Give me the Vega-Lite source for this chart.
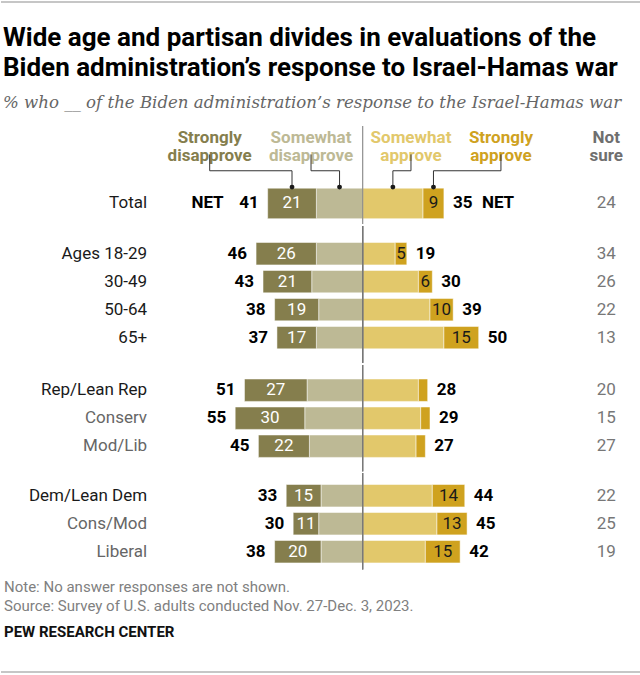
{
  "$schema": "https://vega.github.io/schema/vega-lite/v6.json",
  "padding": 0,
  "background": "white",
  "spacing": 0,
  "config": {
    "view": {"stroke": null},
    "axis": {"disable": true},
    "legend": {"disable": true},
    "text": {"font": "Roboto"},
    "title": {"font": "Roboto"}
  },
  "datasets": {
    "rows": [
      {"g": "t", "label": "Total", "sd": 21, "wd": 20, "netD": 41, "wa": 26, "sa": 9, "netA": 35, "ns": 24},
      {"g": "a", "label": "Ages 18-29", "sd": 26, "wd": 20, "netD": 46, "wa": 14, "sa": 5, "netA": 19, "ns": 34},
      {"g": "a", "label": "30-49", "sd": 21, "wd": 22, "netD": 43, "wa": 24, "sa": 6, "netA": 30, "ns": 26},
      {"g": "a", "label": "50-64", "sd": 19, "wd": 19, "netD": 38, "wa": 29, "sa": 10, "netA": 39, "ns": 22},
      {"g": "a", "label": "65+", "sd": 17, "wd": 20, "netD": 37, "wa": 35, "sa": 15, "netA": 50, "ns": 13},
      {"g": "r", "label": "Rep/Lean Rep", "sd": 27, "wd": 24, "netD": 51, "wa": 24, "sa": 4, "netA": 28, "ns": 20},
      {"g": "r", "label": "Conserv", "sd": 30, "wd": 25, "netD": 55, "wa": 25, "sa": 4, "netA": 29, "ns": 15},
      {"g": "r", "label": "Mod/Lib", "sd": 22, "wd": 23, "netD": 45, "wa": 23, "sa": 4, "netA": 27, "ns": 27},
      {"g": "d", "label": "Dem/Lean Dem", "sd": 15, "wd": 18, "netD": 33, "wa": 30, "sa": 14, "netA": 44, "ns": 22},
      {"g": "d", "label": "Cons/Mod", "sd": 11, "wd": 19, "netD": 30, "wa": 32, "sa": 13, "netA": 45, "ns": 25},
      {"g": "d", "label": "Liberal", "sd": 20, "wd": 18, "netD": 38, "wa": 27, "sa": 15, "netA": 42, "ns": 19}
    ],
    "legend": [
      {"k": "sd", "t": ["Strongly", "disapprove"], "at": -66, "anc": -30.5},
      {"k": "wd", "t": ["Somewhat", "disapprove"], "at": -22.3, "anc": -10},
      {"k": "wa", "t": ["Somewhat", "approve"], "at": 20.8, "anc": 13},
      {"k": "sa", "t": ["Strongly", "approve"], "at": 59.6, "anc": 30.5},
      {"k": "ns", "t": ["Not", "sure"], "at": 105, "anc": null}
    ]
  },
  "data": {"name": "rows"},
  "vconcat": [
    {
      "width": 640,
      "height": 24,
      "data": {"values": [{}]},
      "mark": {"type": "rule", "color": "#b3b3b3", "strokeWidth": 1.5},
      "encoding": {"y": {"datum": 0.917, "type": "quantitative", "scale": {"domain": [0, 1]}}}
    },
    {
      "width": 640,
      "height": 98,
      "title": {
        "text": ["Wide age and partisan divides in evaluations of the", "Biden administration’s response to Israel-Hamas war"],
        "subtitle": "% who __ of the Biden administration’s response to the Israel-Hamas war",
        "anchor": "start",
        "frame": "group",
        "dx": 2,
        "font": "Roboto",
        "fontSize": 26,
        "fontWeight": "bold",
        "lineHeight": 30,
        "color": "#000000",
        "subtitleFont": "DejaVu Serif",
        "subtitleFontStyle": "italic",
        "subtitleFontSize": 16.6,
        "subtitleColor": "#666666",
        "subtitlePadding": 14,
        "offset": 14
      },
      "transform": [{"filter": "datum.g == 't'"}],
      "layer": [
        {
          "transform": [{"fold": ["wd", "sd"], "as": ["resp", "v"]}],
          "mark": {"type": "bar", "stroke": "white", "strokeWidth": 0.5, "height": {"band": 1.867}},
          "encoding": {
            "y": {"field": "label", "type": "nominal", "scale": {"domain": ["c1", "elbow", "dot", "Total"], "paddingInner": 0, "paddingOuter": 2.083, "align": 0.62}},
            "x": {"field": "v", "type": "quantitative", "stack": "zero", "scale": {"domain": [-120, 156], "nice": false, "zero": false, "reverse": true}},
            "color": {"field": "resp", "type": "nominal", "scale": {"domain": ["sd", "wd", "wa", "sa", "ns"], "range": ["#857e4d", "#bdb995", "#e2c86b", "#cfa21f", "#6f6f6f"]}},
            "order": {"field": "resp", "sort": "descending"}
          }
        },
        {
          "transform": [{"fold": ["wa", "sa"], "as": ["resp", "v"]}],
          "mark": {"type": "bar", "stroke": "white", "strokeWidth": 0.5, "height": {"band": 1.867}},
          "encoding": {
            "y": {"field": "label", "type": "nominal"},
            "x": {"field": "v", "type": "quantitative", "stack": "zero", "scale": {"domain": [-156, 120], "nice": false, "zero": false}},
            "color": {"field": "resp", "type": "nominal"},
            "order": {"field": "resp", "sort": "descending"}
          }
        },
        {
          "mark": {"type": "rule", "color": "#777777", "strokeWidth": 1},
          "encoding": {"x": {"datum": 0, "type": "quantitative", "scale": {"domain": [-156, 120], "nice": false, "zero": false}}}
        },
        {
          "transform": [{"fold": ["wd", "sd"], "as": ["resp", "v"]}],
          "mark": {"type": "text", "color": "white", "fontSize": 17, "baseline": "middle"},
          "encoding": {
            "y": {"field": "label", "type": "nominal"},
            "x": {"field": "v", "type": "quantitative", "stack": "zero", "bandPosition": 0.5, "scale": {"domain": [-120, 156], "nice": false, "zero": false, "reverse": true}},
            "detail": {"field": "resp"},
            "order": {"field": "resp", "sort": "descending"},
            "text": {"condition": {"test": "datum.resp == 'sd'", "field": "v", "type": "quantitative"}, "value": ""}
          }
        },
        {
          "transform": [{"fold": ["wa", "sa"], "as": ["resp", "v"]}],
          "mark": {"type": "text", "color": "#1a1a1a", "fontSize": 17, "baseline": "middle"},
          "encoding": {
            "y": {"field": "label", "type": "nominal"},
            "x": {"field": "v", "type": "quantitative", "stack": "zero", "bandPosition": 0.5, "scale": {"domain": [-156, 120], "nice": false, "zero": false}},
            "detail": {"field": "resp"},
            "order": {"field": "resp", "sort": "descending"},
            "text": {"condition": {"test": "datum.resp == 'sa' && datum.v >= 5", "field": "v", "type": "quantitative"}, "value": ""}
          }
        },
        {
          "mark": {"type": "text", "align": "right", "dx": -9, "fontWeight": "bold", "fontSize": 17, "baseline": "middle", "color": "#000000"},
          "encoding": {
            "y": {"field": "label", "type": "nominal"},
            "x": {"field": "netD", "type": "quantitative", "scale": {"domain": [-120, 156], "nice": false, "zero": false, "reverse": true}},
            "text": {"field": "netD", "type": "quantitative"}
          }
        },
        {
          "mark": {"type": "text", "align": "right", "dx": -44, "fontWeight": "bold", "fontSize": 17, "baseline": "middle", "color": "#000000", "text": "NET"},
          "encoding": {
            "y": {"field": "label", "type": "nominal"},
            "x": {"field": "netD", "type": "quantitative", "scale": {"domain": [-120, 156], "nice": false, "zero": false, "reverse": true}}
          }
        },
        {
          "mark": {"type": "text", "align": "left", "dx": 9, "fontWeight": "bold", "fontSize": 17, "baseline": "middle", "color": "#000000"},
          "encoding": {
            "y": {"field": "label", "type": "nominal"},
            "x": {"field": "netA", "type": "quantitative", "scale": {"domain": [-156, 120], "nice": false, "zero": false}},
            "text": {"field": "netA", "type": "quantitative"}
          }
        },
        {
          "mark": {"type": "text", "align": "left", "dx": 38, "fontWeight": "bold", "fontSize": 17, "baseline": "middle", "color": "#000000", "text": "NET"},
          "encoding": {
            "y": {"field": "label", "type": "nominal"},
            "x": {"field": "netA", "type": "quantitative", "scale": {"domain": [-156, 120], "nice": false, "zero": false}}
          }
        },
        {
          "mark": {"type": "text", "align": "center", "fontSize": 17, "baseline": "middle", "color": "#777777"},
          "encoding": {
            "y": {"field": "label", "type": "nominal"},
            "x": {"datum": 105, "type": "quantitative", "scale": {"domain": [-156, 120], "nice": false, "zero": false}},
            "text": {"field": "ns", "type": "quantitative"}
          }
        },
        {
          "mark": {"type": "text", "align": "right", "fontSize": 17, "baseline": "middle"},
          "encoding": {
            "y": {"field": "label", "type": "nominal"},
            "x": {"datum": -93, "type": "quantitative", "scale": {"domain": [-156, 120], "nice": false, "zero": false}},
            "text": {"field": "label"},
            "color": {"condition": {"test": "indexof(['Conserv','Mod/Lib','Cons/Mod','Liberal'], datum.label) >= 0", "value": "#666666"}, "value": "#1a1a1a"}
          }
        },
        {
          "data": {"name": "legend"},
          "mark": {"type": "text", "align": "center", "baseline": "bottom", "fontSize": 17, "fontWeight": "bold", "lineHeight": 18, "dy": -3},
          "encoding": {
            "x": {"field": "at", "type": "quantitative", "scale": {"domain": [-156, 120], "nice": false, "zero": false}},
            "y": {"datum": "c1", "type": "nominal", "bandPosition": 0.2},
            "text": {"field": "t"},
            "color": {"field": "k", "type": "nominal"}
          }
        },
        {
          "data": {"name": "legend"},
          "transform": [{"filter": "datum.k != 'ns'"}],
          "mark": {"type": "rule", "color": "#333333", "strokeWidth": 1},
          "encoding": {
            "x": {"field": "at", "type": "quantitative", "scale": {"domain": [-156, 120], "nice": false, "zero": false}},
            "y": {"datum": "c1", "type": "nominal"},
            "y2": {"datum": "elbow"}
          }
        },
        {
          "data": {"name": "legend"},
          "transform": [{"filter": "datum.k != 'ns'"}],
          "mark": {"type": "rule", "color": "#333333", "strokeWidth": 1},
          "encoding": {
            "x": {"field": "at", "type": "quantitative", "scale": {"domain": [-156, 120], "nice": false, "zero": false}},
            "x2": {"field": "anc"},
            "y": {"datum": "elbow", "type": "nominal"}
          }
        },
        {
          "data": {"name": "legend"},
          "transform": [{"filter": "datum.k != 'ns'"}],
          "mark": {"type": "rule", "color": "#333333", "strokeWidth": 1},
          "encoding": {
            "x": {"field": "anc", "type": "quantitative", "scale": {"domain": [-156, 120], "nice": false, "zero": false}},
            "y": {"datum": "elbow", "type": "nominal"},
            "y2": {"datum": "dot"}
          }
        },
        {
          "data": {"name": "legend"},
          "transform": [{"filter": "datum.k != 'ns'"}],
          "mark": {"type": "point", "filled": true, "size": 24, "color": "#1a1a1a", "opacity": 1},
          "encoding": {
            "x": {"field": "anc", "type": "quantitative", "scale": {"domain": [-156, 120], "nice": false, "zero": false}},
            "y": {"datum": "dot", "type": "nominal"}
          }
        }
      ],
      "resolve": {"scale": {"x": "independent"}}
    },
    {
      "width": 640,
      "height": 136.9,
      "transform": [{"filter": "datum.g == 'a'"}],
      "layer": [
        {
          "transform": [{"fold": ["wd", "sd"], "as": ["resp", "v"]}],
          "mark": {"type": "bar", "stroke": "white", "strokeWidth": 0.5},
          "encoding": {
            "y": {"field": "label", "type": "nominal", "scale": {"domain": ["Ages 18-29", "30-49", "50-64", "65+"], "paddingInner": 0.2, "paddingOuter": 0.545, "align": 0.54}},
            "x": {"field": "v", "type": "quantitative", "stack": "zero", "scale": {"domain": [-120, 156], "nice": false, "zero": false, "reverse": true}},
            "color": {"field": "resp", "type": "nominal", "scale": {"domain": ["sd", "wd", "wa", "sa", "ns"], "range": ["#857e4d", "#bdb995", "#e2c86b", "#cfa21f", "#6f6f6f"]}},
            "order": {"field": "resp", "sort": "descending"}
          }
        },
        {
          "transform": [{"fold": ["wa", "sa"], "as": ["resp", "v"]}],
          "mark": {"type": "bar", "stroke": "white", "strokeWidth": 0.5},
          "encoding": {
            "y": {"field": "label", "type": "nominal"},
            "x": {"field": "v", "type": "quantitative", "stack": "zero", "scale": {"domain": [-156, 120], "nice": false, "zero": false}},
            "color": {"field": "resp", "type": "nominal"},
            "order": {"field": "resp", "sort": "descending"}
          }
        },
        {
          "mark": {"type": "rule", "color": "#777777", "strokeWidth": 1},
          "encoding": {"x": {"datum": 0, "type": "quantitative", "scale": {"domain": [-156, 120], "nice": false, "zero": false}}}
        },
        {
          "transform": [{"fold": ["wd", "sd"], "as": ["resp", "v"]}],
          "mark": {"type": "text", "color": "white", "fontSize": 17, "baseline": "middle"},
          "encoding": {
            "y": {"field": "label", "type": "nominal"},
            "x": {"field": "v", "type": "quantitative", "stack": "zero", "bandPosition": 0.5, "scale": {"domain": [-120, 156], "nice": false, "zero": false, "reverse": true}},
            "detail": {"field": "resp"},
            "order": {"field": "resp", "sort": "descending"},
            "text": {"condition": {"test": "datum.resp == 'sd'", "field": "v", "type": "quantitative"}, "value": ""}
          }
        },
        {
          "transform": [{"fold": ["wa", "sa"], "as": ["resp", "v"]}],
          "mark": {"type": "text", "color": "#1a1a1a", "fontSize": 17, "baseline": "middle"},
          "encoding": {
            "y": {"field": "label", "type": "nominal"},
            "x": {"field": "v", "type": "quantitative", "stack": "zero", "bandPosition": 0.5, "scale": {"domain": [-156, 120], "nice": false, "zero": false}},
            "detail": {"field": "resp"},
            "order": {"field": "resp", "sort": "descending"},
            "text": {"condition": {"test": "datum.resp == 'sa' && datum.v >= 5", "field": "v", "type": "quantitative"}, "value": ""}
          }
        },
        {
          "mark": {"type": "text", "align": "right", "dx": -9, "fontWeight": "bold", "fontSize": 17, "baseline": "middle", "color": "#000000"},
          "encoding": {
            "y": {"field": "label", "type": "nominal"},
            "x": {"field": "netD", "type": "quantitative", "scale": {"domain": [-120, 156], "nice": false, "zero": false, "reverse": true}},
            "text": {"field": "netD", "type": "quantitative"}
          }
        },
        {
          "mark": {"type": "text", "align": "left", "dx": 9, "fontWeight": "bold", "fontSize": 17, "baseline": "middle", "color": "#000000"},
          "encoding": {
            "y": {"field": "label", "type": "nominal"},
            "x": {"field": "netA", "type": "quantitative", "scale": {"domain": [-156, 120], "nice": false, "zero": false}},
            "text": {"field": "netA", "type": "quantitative"}
          }
        },
        {
          "mark": {"type": "text", "align": "center", "fontSize": 17, "baseline": "middle", "color": "#777777"},
          "encoding": {
            "y": {"field": "label", "type": "nominal"},
            "x": {"datum": 105, "type": "quantitative", "scale": {"domain": [-156, 120], "nice": false, "zero": false}},
            "text": {"field": "ns", "type": "quantitative"}
          }
        },
        {
          "mark": {"type": "text", "align": "right", "fontSize": 17, "baseline": "middle"},
          "encoding": {
            "y": {"field": "label", "type": "nominal"},
            "x": {"datum": -93, "type": "quantitative", "scale": {"domain": [-156, 120], "nice": false, "zero": false}},
            "text": {"field": "label"},
            "color": {"condition": {"test": "indexof(['Conserv','Mod/Lib','Cons/Mod','Liberal'], datum.label) >= 0", "value": "#666666"}, "value": "#1a1a1a"}
          }
        }
      ],
      "resolve": {"scale": {"x": "independent"}}
    },
    {
      "width": 640,
      "height": 106.4,
      "transform": [{"filter": "datum.g == 'r'"}],
      "layer": [
        {
          "transform": [{"fold": ["wd", "sd"], "as": ["resp", "v"]}],
          "mark": {"type": "bar", "stroke": "white", "strokeWidth": 0.5},
          "encoding": {
            "y": {"field": "label", "type": "nominal", "scale": {"domain": ["Rep/Lean Rep", "Conserv", "Mod/Lib"], "paddingInner": 0.2, "paddingOuter": 0.5}},
            "x": {"field": "v", "type": "quantitative", "stack": "zero", "scale": {"domain": [-120, 156], "nice": false, "zero": false, "reverse": true}},
            "color": {"field": "resp", "type": "nominal", "scale": {"domain": ["sd", "wd", "wa", "sa", "ns"], "range": ["#857e4d", "#bdb995", "#e2c86b", "#cfa21f", "#6f6f6f"]}},
            "order": {"field": "resp", "sort": "descending"}
          }
        },
        {
          "transform": [{"fold": ["wa", "sa"], "as": ["resp", "v"]}],
          "mark": {"type": "bar", "stroke": "white", "strokeWidth": 0.5},
          "encoding": {
            "y": {"field": "label", "type": "nominal"},
            "x": {"field": "v", "type": "quantitative", "stack": "zero", "scale": {"domain": [-156, 120], "nice": false, "zero": false}},
            "color": {"field": "resp", "type": "nominal"},
            "order": {"field": "resp", "sort": "descending"}
          }
        },
        {
          "mark": {"type": "rule", "color": "#777777", "strokeWidth": 1},
          "encoding": {"x": {"datum": 0, "type": "quantitative", "scale": {"domain": [-156, 120], "nice": false, "zero": false}}}
        },
        {
          "transform": [{"fold": ["wd", "sd"], "as": ["resp", "v"]}],
          "mark": {"type": "text", "color": "white", "fontSize": 17, "baseline": "middle"},
          "encoding": {
            "y": {"field": "label", "type": "nominal"},
            "x": {"field": "v", "type": "quantitative", "stack": "zero", "bandPosition": 0.5, "scale": {"domain": [-120, 156], "nice": false, "zero": false, "reverse": true}},
            "detail": {"field": "resp"},
            "order": {"field": "resp", "sort": "descending"},
            "text": {"condition": {"test": "datum.resp == 'sd'", "field": "v", "type": "quantitative"}, "value": ""}
          }
        },
        {
          "transform": [{"fold": ["wa", "sa"], "as": ["resp", "v"]}],
          "mark": {"type": "text", "color": "#1a1a1a", "fontSize": 17, "baseline": "middle"},
          "encoding": {
            "y": {"field": "label", "type": "nominal"},
            "x": {"field": "v", "type": "quantitative", "stack": "zero", "bandPosition": 0.5, "scale": {"domain": [-156, 120], "nice": false, "zero": false}},
            "detail": {"field": "resp"},
            "order": {"field": "resp", "sort": "descending"},
            "text": {"condition": {"test": "datum.resp == 'sa' && datum.v >= 5", "field": "v", "type": "quantitative"}, "value": ""}
          }
        },
        {
          "mark": {"type": "text", "align": "right", "dx": -9, "fontWeight": "bold", "fontSize": 17, "baseline": "middle", "color": "#000000"},
          "encoding": {
            "y": {"field": "label", "type": "nominal"},
            "x": {"field": "netD", "type": "quantitative", "scale": {"domain": [-120, 156], "nice": false, "zero": false, "reverse": true}},
            "text": {"field": "netD", "type": "quantitative"}
          }
        },
        {
          "mark": {"type": "text", "align": "left", "dx": 9, "fontWeight": "bold", "fontSize": 17, "baseline": "middle", "color": "#000000"},
          "encoding": {
            "y": {"field": "label", "type": "nominal"},
            "x": {"field": "netA", "type": "quantitative", "scale": {"domain": [-156, 120], "nice": false, "zero": false}},
            "text": {"field": "netA", "type": "quantitative"}
          }
        },
        {
          "mark": {"type": "text", "align": "center", "fontSize": 17, "baseline": "middle", "color": "#777777"},
          "encoding": {
            "y": {"field": "label", "type": "nominal"},
            "x": {"datum": 105, "type": "quantitative", "scale": {"domain": [-156, 120], "nice": false, "zero": false}},
            "text": {"field": "ns", "type": "quantitative"}
          }
        },
        {
          "mark": {"type": "text", "align": "right", "fontSize": 17, "baseline": "middle"},
          "encoding": {
            "y": {"field": "label", "type": "nominal"},
            "x": {"datum": -93, "type": "quantitative", "scale": {"domain": [-156, 120], "nice": false, "zero": false}},
            "text": {"field": "label"},
            "color": {"condition": {"test": "indexof(['Conserv','Mod/Lib','Cons/Mod','Liberal'], datum.label) >= 0", "value": "#666666"}, "value": "#1a1a1a"}
          }
        }
      ],
      "resolve": {"scale": {"x": "independent"}}
    },
    {
      "width": 640,
      "height": 96.5,
      "title": {
        "text": ["Note: No answer responses are not shown.", "Source: Survey of U.S. adults conducted Nov. 27-Dec. 3, 2023."],
        "subtitle": "PEW RESEARCH CENTER",
        "orient": "bottom",
        "anchor": "start",
        "frame": "group",
        "dx": 3,
        "font": "Roboto",
        "fontSize": 15,
        "fontWeight": "normal",
        "color": "#808080",
        "lineHeight": 19,
        "subtitleFont": "Roboto",
        "subtitleFontSize": 15,
        "subtitleFontWeight": "bold",
        "subtitleColor": "#111111",
        "subtitlePadding": 11,
        "offset": 10
      },
      "transform": [{"filter": "datum.g == 'd'"}],
      "layer": [
        {
          "transform": [{"fold": ["wd", "sd"], "as": ["resp", "v"]}],
          "mark": {"type": "bar", "stroke": "white", "strokeWidth": 0.5},
          "encoding": {
            "y": {"field": "label", "type": "nominal", "scale": {"domain": ["Dem/Lean Dem", "Cons/Mod", "Liberal"], "paddingInner": 0.2, "paddingOuter": 0.323, "align": 0.635}},
            "x": {"field": "v", "type": "quantitative", "stack": "zero", "scale": {"domain": [-120, 156], "nice": false, "zero": false, "reverse": true}},
            "color": {"field": "resp", "type": "nominal", "scale": {"domain": ["sd", "wd", "wa", "sa", "ns"], "range": ["#857e4d", "#bdb995", "#e2c86b", "#cfa21f", "#6f6f6f"]}},
            "order": {"field": "resp", "sort": "descending"}
          }
        },
        {
          "transform": [{"fold": ["wa", "sa"], "as": ["resp", "v"]}],
          "mark": {"type": "bar", "stroke": "white", "strokeWidth": 0.5},
          "encoding": {
            "y": {"field": "label", "type": "nominal"},
            "x": {"field": "v", "type": "quantitative", "stack": "zero", "scale": {"domain": [-156, 120], "nice": false, "zero": false}},
            "color": {"field": "resp", "type": "nominal"},
            "order": {"field": "resp", "sort": "descending"}
          }
        },
        {
          "mark": {"type": "rule", "color": "#777777", "strokeWidth": 1},
          "encoding": {"x": {"datum": 0, "type": "quantitative", "scale": {"domain": [-156, 120], "nice": false, "zero": false}}}
        },
        {
          "transform": [{"fold": ["wd", "sd"], "as": ["resp", "v"]}],
          "mark": {"type": "text", "color": "white", "fontSize": 17, "baseline": "middle"},
          "encoding": {
            "y": {"field": "label", "type": "nominal"},
            "x": {"field": "v", "type": "quantitative", "stack": "zero", "bandPosition": 0.5, "scale": {"domain": [-120, 156], "nice": false, "zero": false, "reverse": true}},
            "detail": {"field": "resp"},
            "order": {"field": "resp", "sort": "descending"},
            "text": {"condition": {"test": "datum.resp == 'sd'", "field": "v", "type": "quantitative"}, "value": ""}
          }
        },
        {
          "transform": [{"fold": ["wa", "sa"], "as": ["resp", "v"]}],
          "mark": {"type": "text", "color": "#1a1a1a", "fontSize": 17, "baseline": "middle"},
          "encoding": {
            "y": {"field": "label", "type": "nominal"},
            "x": {"field": "v", "type": "quantitative", "stack": "zero", "bandPosition": 0.5, "scale": {"domain": [-156, 120], "nice": false, "zero": false}},
            "detail": {"field": "resp"},
            "order": {"field": "resp", "sort": "descending"},
            "text": {"condition": {"test": "datum.resp == 'sa' && datum.v >= 5", "field": "v", "type": "quantitative"}, "value": ""}
          }
        },
        {
          "mark": {"type": "text", "align": "right", "dx": -9, "fontWeight": "bold", "fontSize": 17, "baseline": "middle", "color": "#000000"},
          "encoding": {
            "y": {"field": "label", "type": "nominal"},
            "x": {"field": "netD", "type": "quantitative", "scale": {"domain": [-120, 156], "nice": false, "zero": false, "reverse": true}},
            "text": {"field": "netD", "type": "quantitative"}
          }
        },
        {
          "mark": {"type": "text", "align": "left", "dx": 9, "fontWeight": "bold", "fontSize": 17, "baseline": "middle", "color": "#000000"},
          "encoding": {
            "y": {"field": "label", "type": "nominal"},
            "x": {"field": "netA", "type": "quantitative", "scale": {"domain": [-156, 120], "nice": false, "zero": false}},
            "text": {"field": "netA", "type": "quantitative"}
          }
        },
        {
          "mark": {"type": "text", "align": "center", "fontSize": 17, "baseline": "middle", "color": "#777777"},
          "encoding": {
            "y": {"field": "label", "type": "nominal"},
            "x": {"datum": 105, "type": "quantitative", "scale": {"domain": [-156, 120], "nice": false, "zero": false}},
            "text": {"field": "ns", "type": "quantitative"}
          }
        },
        {
          "mark": {"type": "text", "align": "right", "fontSize": 17, "baseline": "middle"},
          "encoding": {
            "y": {"field": "label", "type": "nominal"},
            "x": {"datum": -93, "type": "quantitative", "scale": {"domain": [-156, 120], "nice": false, "zero": false}},
            "text": {"field": "label"},
            "color": {"condition": {"test": "indexof(['Conserv','Mod/Lib','Cons/Mod','Liberal'], datum.label) >= 0", "value": "#666666"}, "value": "#1a1a1a"}
          }
        }
      ],
      "resolve": {"scale": {"x": "independent"}}
    },
    {
      "width": 640,
      "height": 35,
      "data": {"values": [{}]},
      "mark": {"type": "rule", "color": "#b3b3b3", "strokeWidth": 1.5},
      "encoding": {"y": {"datum": 0.086, "type": "quantitative", "scale": {"domain": [0, 1]}}}
    }
  ],
  "resolve": {"scale": {"x": "independent", "y": "independent", "color": "independent"}}
}
